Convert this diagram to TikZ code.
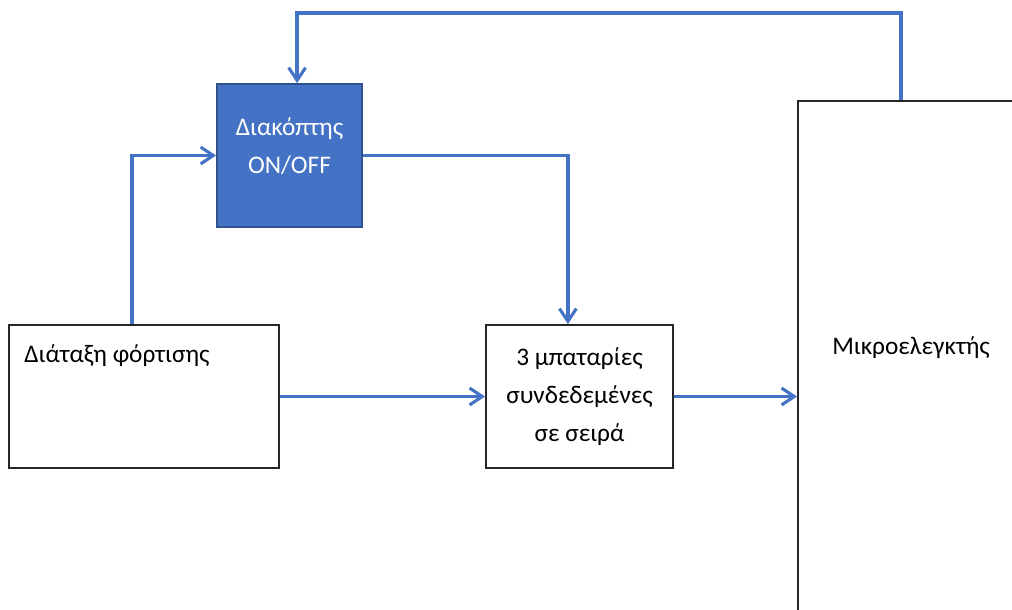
\documentclass[tikz,border=0pt]{standalone}
\usepackage{xcolor}
\usepackage{fontspec}
\setmainfont{Carlito}
\usepackage{tikz}
\usetikzlibrary{positioning,arrows.meta}

\definecolor{flowblue}{HTML}{4472C4}
\definecolor{edgeblue}{HTML}{2F528F}

\begin{document}
\begin{tikzpicture}[x=0.025cm, y=-0.025cm,
    every node/.style={font=\fontsize{18}{27}\selectfont, inner sep=0pt},
    box/.style={rectangle, draw=black!85, line width=1.3pt, fill=white},
    flow/.style={draw=flowblue, line width=2.5pt, -{Straight Barb[length=9pt,width=12pt,line width=2.2pt]}}]

\useasboundingbox (0,0) rectangle (1012,610);
\clip (0,0) rectangle (1012,610);

% Blocks
\node[box, draw=edgeblue, fill=flowblue, minimum width=3.625cm, minimum height=3.575cm,
      label={[white, align=center, yshift=0.24cm]center:{Διακόπτης\\ON/OFF}}] (switch) at (289.5,155.5) {};
\node[box, minimum width=6.75cm, minimum height=3.575cm,
      label={[anchor=west, xshift=0.4cm, yshift=-0.78cm]north west:{Διάταξη φόρτισης}}] (charge) at (144,396.5) {};
\node[box, minimum width=4.675cm, minimum height=3.575cm, align=center] (battery) at (579.5,396.5)
      {3 μπαταρίες\\συνδεδεμένες\\σε σειρά};
\node[box, anchor=north west, minimum width=7.5cm, minimum height=15cm,
      label={[anchor=west, xshift=0.875cm, yshift=-6.2cm]north west:{Μικροελεγκτής}}] (micro) at (797,100) {};

% Connectors
\draw[flow] ([xshift=3.1cm]charge.north west) |- (switch.west);
\draw[flow] (switch.east) -| ([xshift=-0.29cm]battery.north);
\draw[flow] (charge.east) -- (battery.west);
\draw[flow] (battery.east) -- (battery.east -| micro.west);
\draw[flow] ([xshift=2.6cm]micro.north west) -- ++(0,-87) -| ([xshift=0.19cm]switch.north);

\end{tikzpicture}
\end{document}
